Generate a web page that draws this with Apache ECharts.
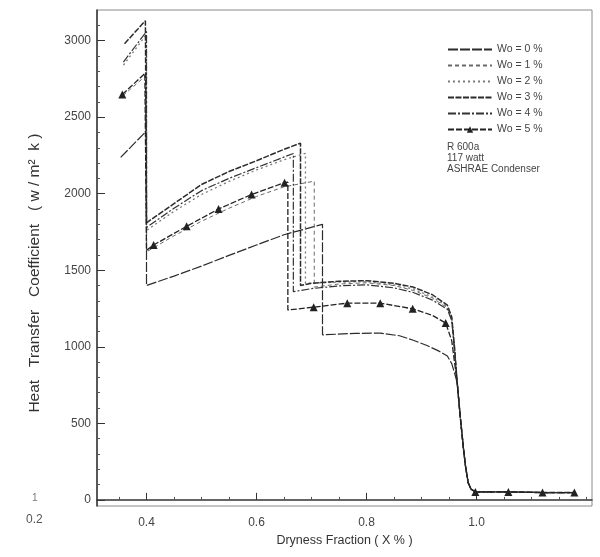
<!DOCTYPE html>
<html><head><meta charset="utf-8">
<script src="https://cdn.jsdelivr.net/npm/echarts@6/dist/echarts.min.js"></script>
<style>html,body{margin:0;padding:0;background:#fff}#c{width:600px;height:557px}</style>
</head><body><div id="c"></div>
<script>
// ---- data ----
const seriesNames = ['Wo = 0 %', 'Wo = 1 %', 'Wo = 2 %', 'Wo = 3 %', 'Wo = 4 %', 'Wo = 5 %'];
const xTickValues = [0.4, 0.6, 0.8, 1.0];
const xMinorTicks = [0.35, 0.45, 0.5, 0.55, 0.65, 0.7, 0.75, 0.85, 0.9, 0.95, 1.05, 1.1, 1.15, 1.2];
const yTickValues = [0, 500, 1000, 1500, 2000, 2500, 3000];
const yMinorTicks = [100, 200, 300, 400, 600, 700, 800, 900, 1100, 1200, 1300, 1400, 1600, 1700, 1800, 1900, 2100, 2200, 2300, 2400, 2600, 2700, 2800, 2900, 3100];

// shared vapour-region tail (all curves coincide here)
const tail = [[0.97, 560], [0.976, 346], [0.98, 220], [0.985, 111], [0.99, 70], [0.998, 52], [1.058, 52], [1.12, 48], [1.178, 48]];

const wo0 = [[0.353, 2237], [0.4, 2410], [0.4, 1400], [0.45, 1462], [0.5, 1527], [0.55, 1597], [0.6, 1665], [0.65, 1732], [0.72, 1800],
  [0.72, 1078], [0.78, 1088], [0.825, 1089], [0.86, 1072], [0.885, 1043], [0.91, 1008], [0.93, 975], [0.947, 940], [0.955, 890], [0.96, 830], [0.965, 763]];
const wo1 = [[0.357, 2640], [0.4, 2775], [0.4, 1620], [0.45, 1725], [0.5, 1820], [0.55, 1905], [0.6, 1982], [0.65, 2045], [0.705, 2082],
  [0.705, 1390], [0.75, 1410], [0.8, 1418], [0.85, 1400], [0.885, 1368], [0.92, 1318], [0.947, 1255], [0.955, 1180], [0.96, 985], [0.965, 763]];
const wo2 = [[0.358, 2840], [0.4, 3040], [0.4, 1760], [0.45, 1885], [0.5, 1995], [0.55, 2080], [0.6, 2155], [0.65, 2222], [0.689, 2263],
  [0.689, 1415], [0.75, 1422], [0.8, 1425], [0.85, 1405], [0.885, 1378], [0.92, 1325], [0.947, 1262], [0.955, 1185], [0.96, 990], [0.965, 763]];
const wo3 = [[0.36, 2980], [0.398, 3130], [0.4, 3130], [0.4, 1810], [0.45, 1935], [0.5, 2060], [0.55, 2145], [0.6, 2215], [0.65, 2290], [0.68, 2330],
  [0.68, 1400], [0.7, 1415], [0.75, 1428], [0.8, 1432], [0.85, 1415], [0.885, 1390], [0.92, 1340], [0.947, 1272], [0.955, 1194], [0.96, 1000], [0.965, 763]];
const wo4 = [[0.358, 2860], [0.4, 3060], [0.4, 1780], [0.45, 1905], [0.5, 2020], [0.55, 2100], [0.6, 2170], [0.667, 2263],
  [0.667, 1360], [0.7, 1380], [0.75, 1398], [0.8, 1405], [0.85, 1385], [0.885, 1355], [0.92, 1305], [0.947, 1245], [0.955, 1170], [0.96, 980], [0.965, 763]];
const wo5 = [[0.356, 2648], [0.397, 2785], [0.4, 2790], [0.4, 1630], [0.413, 1665], [0.473, 1787], [0.531, 1900], [0.591, 1995], [0.651, 2072], [0.657, 2075],
  [0.657, 1240], [0.704, 1259], [0.765, 1285], [0.825, 1285], [0.884, 1248], [0.92, 1205], [0.944, 1155], [0.955, 1040], [0.96, 900], [0.965, 763]];
const wo5MarkerX = [0.356, 0.413, 0.473, 0.531, 0.591, 0.651, 0.704, 0.765, 0.825, 0.884, 0.944, 0.998, 1.058, 1.12, 1.178];

const noteLines = ['R 600a', '117 watt', 'ASHRAE Condenser'];

// ---- chart ----
const FONT = 'Liberation Sans';
const curves = [wo0, wo1, wo2, wo3, wo4, wo5];
const styles = [
  { color: '#2b2b2b', width: 1.2, type: [10, 2] },
  { color: '#6a6a6a', width: 1.0, type: [4, 3] },
  { color: '#7a7a7a', width: 1.3, type: [2, 3] },
  { color: '#2b2b2b', width: 1.5, type: [6, 1.5] },
  { color: '#333333', width: 1.2, type: [8, 2, 2, 2] },
  { color: '#222222', width: 1.3, type: [6, 2] }
];

const series = curves.map((pts, i) => {
  const full = pts.concat(tail);
  const isTri = i === 5;
  return {
    name: seriesNames[i],
    type: 'line',
    data: full.map(p => isTri
      ? { value: p, symbol: wo5MarkerX.some(m => Math.abs(m - p[0]) < 1e-6) ? 'triangle' : 'none' }
      : p),
    symbol: isTri ? 'triangle' : 'circle',
    showSymbol: isTri,
    symbolSize: 8,
    itemStyle: { color: styles[i].color, opacity: isTri ? 1 : 0 },
    lineStyle: { color: styles[i].color, width: styles[i].width, type: styles[i].type },
    silent: true,
    z: 3 + i
  };
});

const chart = echarts.init(document.getElementById('c'), null, { renderer: 'canvas' });
chart.setOption({
  animation: false,
  backgroundColor: '#ffffff',
  textStyle: { fontFamily: FONT },
  grid: { left: 97, right: 8, top: 10, bottom: 51, show: true, borderColor: '#8a8a8a', borderWidth: 1 },
  legend: {
    orient: 'vertical', left: 447, top: 44, padding: 0,
    itemWidth: 44, itemHeight: 8, itemGap: 5,
    data: seriesNames,
    textStyle: { fontSize: 10.5, color: '#444', fontFamily: FONT, lineHeight: 10 },
    selectedMode: false
  },
  xAxis: [
    {
      type: 'value', min: 0.31, max: 1.21, position: 'bottom',
      axisLine: { show: true, lineStyle: { color: '#333', width: 1.5 } },
      axisTick: { show: true, inside: true, length: 7, customValues: xTickValues, lineStyle: { color: '#333' } },
      axisLabel: { customValues: xTickValues, formatter: v => v.toFixed(1), fontSize: 12, color: '#444', margin: 11 },
      splitLine: { show: false },
      name: 'Dryness Fraction ( X % )', nameLocation: 'middle', nameGap: 24,
      nameTextStyle: { fontSize: 12.5, color: '#333' }
    },
    {
      type: 'value', min: 0.31, max: 1.21, position: 'bottom',
      axisLine: { show: false },
      axisTick: { show: true, inside: true, length: 3, customValues: xMinorTicks, lineStyle: { color: '#555' } },
      axisLabel: { show: false },
      splitLine: { show: false }
    }
  ],
  yAxis: [
    {
      type: 'value', min: -40, max: 3200, position: 'left',
      axisLine: { show: true, lineStyle: { color: '#333', width: 1.5 } },
      axisTick: { show: true, inside: true, length: 8, customValues: yTickValues, lineStyle: { color: '#333' } },
      axisLabel: { customValues: yTickValues, formatter: v => String(v), fontSize: 12, color: '#444', margin: 6 },
      splitLine: { show: false },
      name: 'Heat   Transfer   Coefficient   ( w / m²  k )       ', nameLocation: 'middle', nameGap: 54,
      nameTextStyle: { fontSize: 15.5, color: '#333' }
    },
    {
      type: 'value', min: -40, max: 3200, position: 'left',
      axisLine: { show: false },
      axisTick: { show: true, inside: true, length: 3, customValues: yMinorTicks, lineStyle: { color: '#555' } },
      axisLabel: { show: false },
      splitLine: { show: false }
    }
  ],
  graphic: [
    ...noteLines.map((t, i) => ({
      type: 'text', left: 447, top: 142 + i * 11, silent: true,
      style: { text: t, fontSize: 10, fill: '#444', fontFamily: FONT }
    })),
    { type: 'text', left: 26, top: 514, silent: true, style: { text: '0.2', fontSize: 12, fill: '#555', fontFamily: FONT } },
    { type: 'text', left: 32, top: 493, silent: true, style: { text: '1', fontSize: 10, fill: '#777', fontFamily: FONT } }
  ],
  series: series
});
</script>
</body></html>
